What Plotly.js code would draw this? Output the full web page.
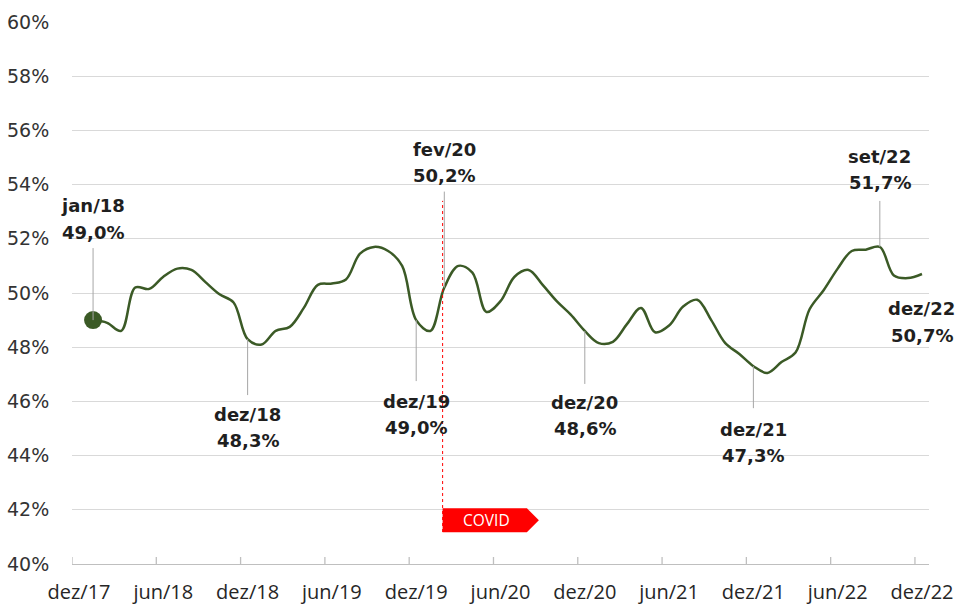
<!DOCTYPE html>
<html>
<head>
<meta charset="utf-8">
<script src="https://cdn.plot.ly/plotly-3.0.1.min.js"></script>
<style>
  html, body { margin: 0; padding: 0; background: #ffffff; }
  #chart { width: 957px; height: 605px; }
</style>
</head>
<body>
<div id="chart"></div>
<script>
// ---- data ----
const monthAbbr = ['jan','fev','mar','abr','mai','jun','jul','ago','set','out','nov','dez'];
const years = ['18','19','20','21','22'];
const months = [];
years.forEach(y => monthAbbr.forEach(m => months.push(m + '/' + y)));

const values = [
  49.0, 48.9, 48.6, 50.2, 50.15, 50.6, 50.9, 50.85, 50.4, 49.95, 49.65, 48.3,   // 2018
  48.1, 48.6, 48.75, 49.45, 50.3, 50.35, 50.5, 51.45, 51.7, 51.55, 51.0, 49.0,  // 2019
  48.6, 50.2, 51.0, 50.75, 49.3, 49.7, 50.6, 50.85, 50.3, 49.7, 49.2, 48.6,     // 2020
  48.15, 48.2, 48.85, 49.45, 48.55, 48.8, 49.5, 49.75, 49.0, 48.15, 47.75, 47.3,// 2021
  47.05, 47.45, 47.8, 49.4, 50.1, 50.9, 51.55, 51.6, 51.7, 50.65, 50.55, 50.7   // 2022
];

const xTickLabels = ['dez/17','jun/18','dez/18','jun/19','dez/19','jun/20','dez/20','jun/21','dez/21','jun/22','dez/22'];
const yTickValues = [40, 42, 44, 46, 48, 50, 52, 54, 56, 58, 60];
const highlighted = ['jan/18','dez/18','dez/19','fev/20','dez/20','dez/21','set/22','dez/22'];
const covidMonth = 'fev/20';

// ---- helpers ----
function monthStart(label) {           // months since start of dez/17
  const [m, y] = label.split('/');
  return (parseInt(y, 10) - 17) * 12 + monthAbbr.indexOf(m) - 11;
}
const xs = months.map(l => monthStart(l) + 0.5);   // mid-month position
const fmt = v => v.toFixed(1).replace('.', ',') + '%';

// label placement (pixels below point; negative = above)
const labelPlacement = {
  'jan/18': {l1: -115, l2: -88, lead: -72},
  'dez/18': {l1: 75, l2: 101, lead: 56},
  'dez/19': {l1: 81, l2: 107, lead: 61},
  'fev/20': {l1: -138, l2: -112, lead: -96},
  'dez/20': {l1: 72, l2: 98, lead: 53},
  'dez/21': {l1: 63, l2: 89, lead: 42},
  'set/22': {l1: -90, l2: -64, lead: -46},
  'dez/22': {l1: 34, l2: 61, lead: null}
};

const lineColor = '#3b5a26';
const textFont = {family: 'DejaVu Sans', size: 18, color: '#1f1f1f', weight: 'bold'};

const annotations = [];
const shapes = [];

highlighted.forEach(lab => {
  const i = months.indexOf(lab);
  const x = xs[i], v = values[i];
  const p = labelPlacement[lab];
  annotations.push({x: x, y: v, xref: 'x', yref: 'y', text: '<b>' + lab + '</b>', showarrow: false,
    xanchor: 'center', yanchor: 'middle', yshift: -p.l1, font: textFont});
  annotations.push({x: x, y: v, xref: 'x', yref: 'y', text: '<b>' + fmt(v) + '</b>', showarrow: false,
    xanchor: 'center', yanchor: 'middle', yshift: -p.l2, font: textFont});
  if (p.lead !== null) {
    shapes.push({type: 'line', xref: 'x', yref: 'y', ysizemode: 'pixel', yanchor: v,
      x0: x, x1: x, y0: 0, y1: -p.lead, line: {color: '#a6a6a6', width: 1}, layer: 'above'});
  }
});

// x tick marks (crossing the axis line) at month starts
xTickLabels.forEach(l => {
  const t = monthStart(l);
  shapes.push({type: 'line', xref: 'x', yref: 'y', ysizemode: 'pixel', yanchor: 40,
    x0: t, x1: t, y0: -6, y1: 7, line: {color: '#bfbfbf', width: 1.3}, layer: 'above'});
});

// COVID marker
const cx = xs[months.indexOf(covidMonth)] - 0.12;
shapes.push({type: 'line', xref: 'x', yref: 'y', x0: cx, x1: cx, y0: 41.18, y1: 53.4,
  line: {color: '#ff0000', width: 1, dash: 'dot'}, layer: 'above'});
shapes.push({type: 'path', xref: 'x', yref: 'y',
  path: `M ${cx},42.06 L ${cx + 6.0},42.06 L ${cx + 6.85},41.61 L ${cx + 6.0},41.17 L ${cx},41.17 Z`,
  fillcolor: '#ff0000', line: {width: 0}, layer: 'above'});
annotations.push({x: cx + 3.1, y: 41.61, xref: 'x', yref: 'y', text: 'COVID', showarrow: false,
  xanchor: 'center', yanchor: 'middle', font: {family: 'Open Sans', size: 15.5, color: '#ffffff'}});

const traces = [
  {x: xs, y: values, type: 'scatter', mode: 'lines',
   line: {color: lineColor, width: 2.5, shape: 'spline', smoothing: 1}, hoverinfo: 'skip'},
  {x: [xs[0]], y: [values[0]], type: 'scatter', mode: 'markers',
   marker: {color: lineColor, size: 18}, hoverinfo: 'skip'}
];

const layout = {
  width: 957, height: 605,
  margin: {l: 72, r: 28, t: 22, b: 41},
  paper_bgcolor: '#ffffff', plot_bgcolor: '#ffffff',
  showlegend: false,
  xaxis: {
    range: [0, 61], tickmode: 'array',
    tickvals: xTickLabels.map(l => monthStart(l) + 0.5), ticktext: xTickLabels,
    ticks: 'outside', ticklen: 10, tickcolor: 'rgba(0,0,0,0)',
    showgrid: false, zeroline: false,
    showline: true, linecolor: '#bfbfbf', linewidth: 1.3,
    tickfont: {family: 'Open Sans', size: 20, color: '#262626'}
  },
  yaxis: {
    range: [40, 60], tickmode: 'array', tickvals: yTickValues,
    ticktext: yTickValues.map(v => v + '%'),
    ticks: 'outside', ticklen: 18, tickcolor: 'rgba(0,0,0,0)',
    showgrid: true, gridcolor: '#d9d9d9', gridwidth: 1,
    zeroline: false, showline: false,
    tickfont: {family: 'DejaVu Sans', size: 19, color: '#333333'}
  },
  annotations: annotations,
  shapes: shapes
};

Plotly.newPlot('chart', traces, layout, {staticPlot: true, displayModeBar: false});
</script>
</body>
</html>
